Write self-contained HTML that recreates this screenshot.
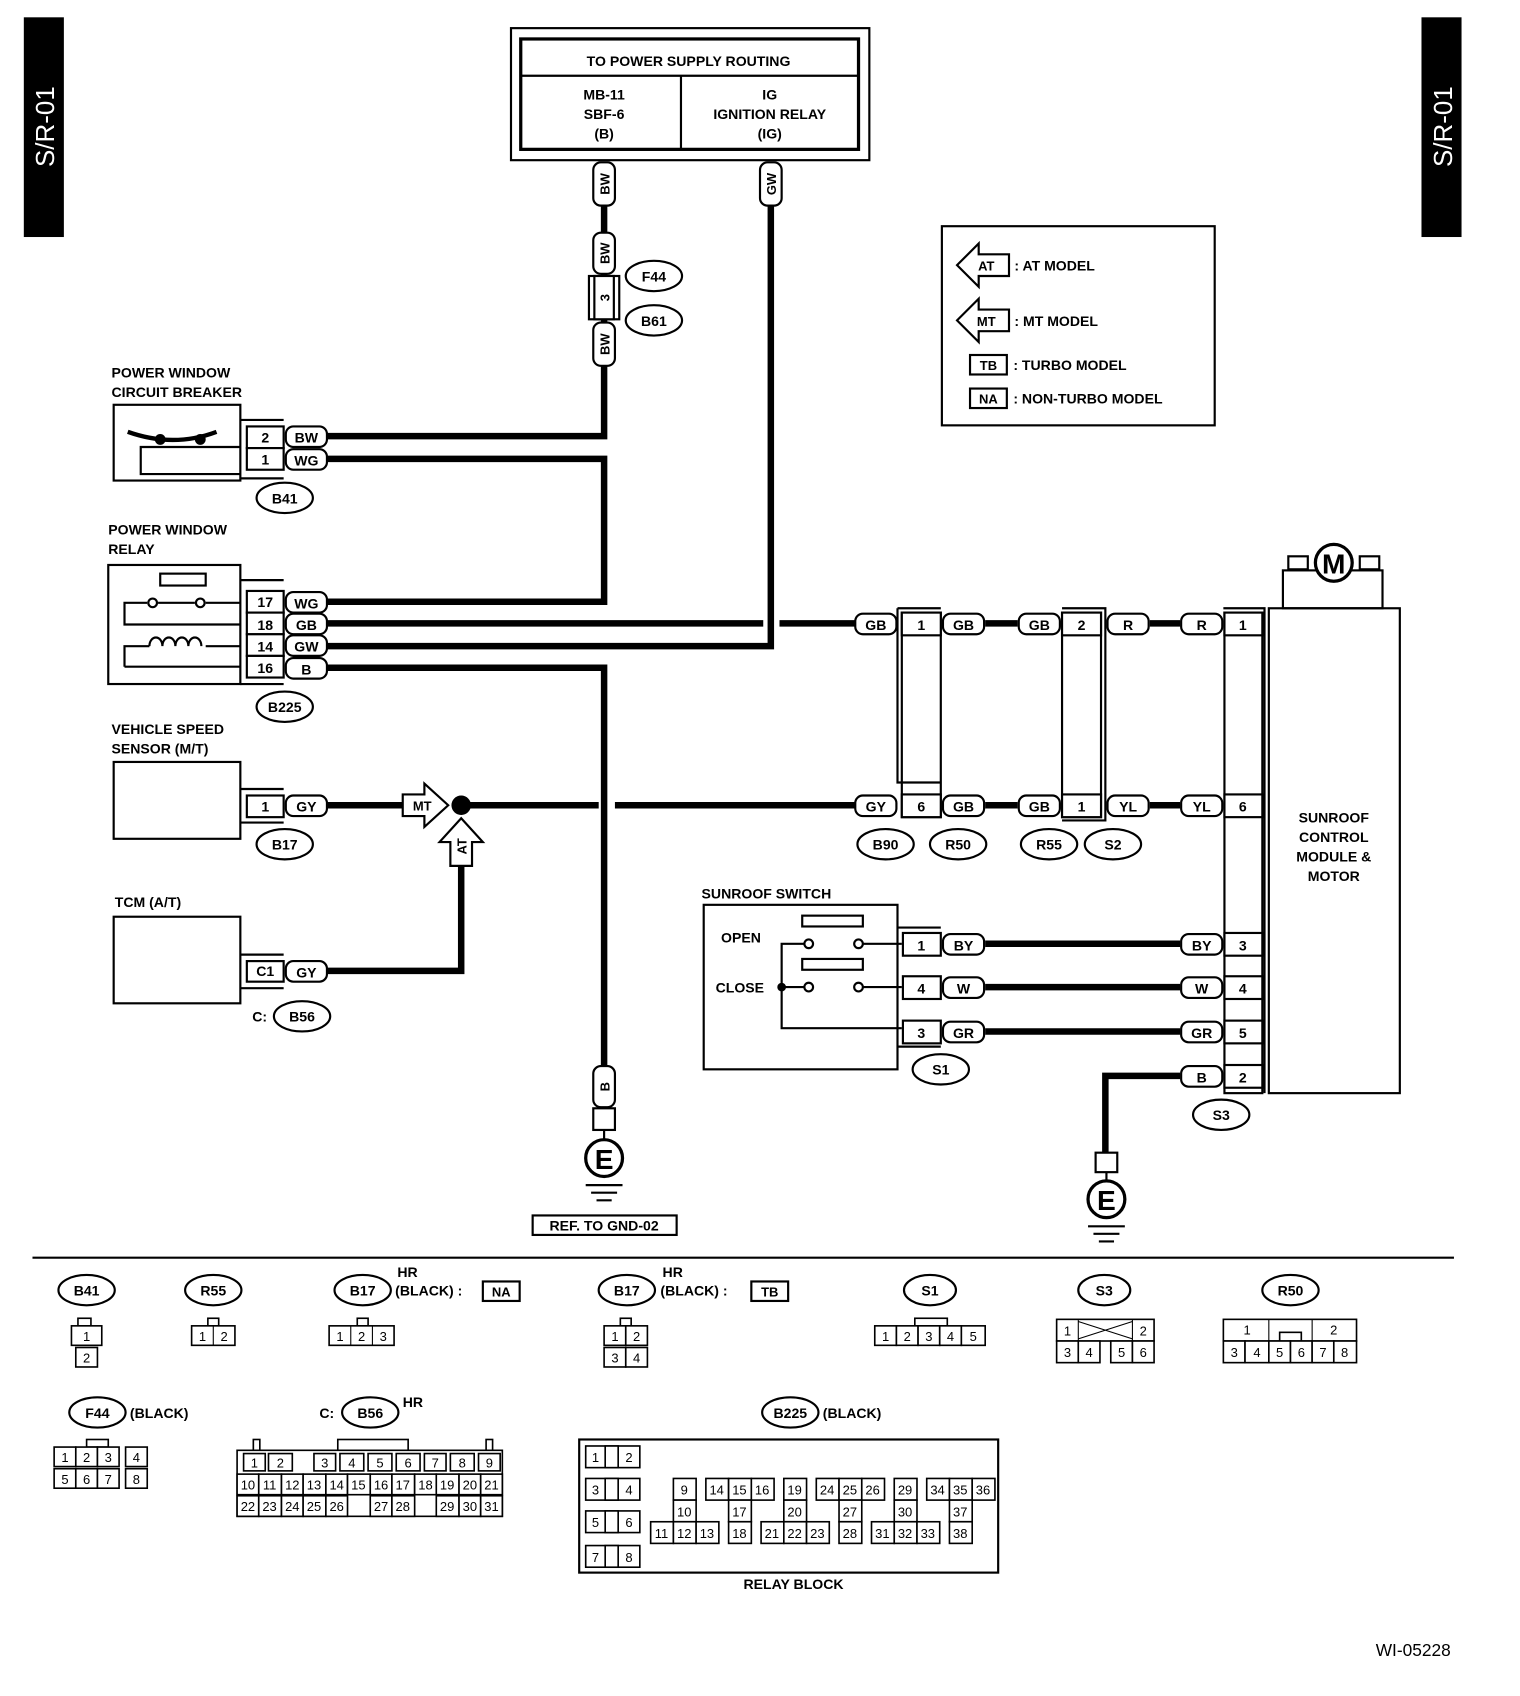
<!DOCTYPE html>
<html><head><meta charset="utf-8"><style>
html,body{margin:0;padding:0;background:#fff}
svg{display:block}
text{font-family:"Liberation Sans",Arial,sans-serif;font-size:14px;font-weight:bold;fill:#000}
.m{text-anchor:middle}
.s{font-size:12px;font-weight:normal}
.b{fill:none;stroke:#000;stroke-width:2}
.w{fill:none;stroke:#000;stroke-width:6}
.l{fill:#fff;stroke:#000;stroke-width:2}
.c rect{fill:#fff;stroke:#000;stroke-width:1.5}
.c text{font-size:12px;font-weight:normal;text-anchor:middle}
</style></head><body>
<svg width="1520" height="1696" viewBox="0 0 1404 1567" preserveAspectRatio="none" xmlns="http://www.w3.org/2000/svg">
<rect x="22" y="16" width="37" height="203" fill="#000"/>
<text transform="translate(50,117) rotate(-90)" class="m" style="fill:#fff;font-size:24px;font-weight:normal">S/R-01</text>
<rect x="1313" y="16" width="37" height="203" fill="#000"/>
<text transform="translate(1341,117) rotate(-90)" class="m" style="fill:#fff;font-size:24px;font-weight:normal">S/R-01</text>

<rect x="472" y="26" width="331" height="122" class="b"/>
<rect x="481" y="36" width="312" height="102" class="b" style="stroke-width:3"/>
<line x1="481" y1="70" x2="793" y2="70" class="b"/>
<line x1="629" y1="70" x2="629" y2="138" class="b"/>
<text x="636" y="61" class="m s" style="font-weight:bold;font-size:13px">TO POWER SUPPLY ROUTING</text>
<text x="558" y="92" class="m" style="font-size:13px">MB-11</text>
<text x="558" y="110" class="m" style="font-size:13px">SBF-6</text>
<text x="558" y="128" class="m" style="font-size:13px">(B)</text>
<text x="711" y="92" class="m" style="font-size:13px">IG</text>
<text x="711" y="110" class="m" style="font-size:13px">IGNITION RELAY</text>
<text x="711" y="128" class="m" style="font-size:13px">(IG)</text>

<path class="w" d="M558 190 V215 M558 250 V300 M558 338 V403 H265"/>
<path class="w" d="M712 190 V597 H265"/>
<path class="w" d="M265 424 H558 V556 H265"/>
<path class="w" d="M265 576 H705 M720 576 H790"/>
<path class="w" d="M910 576 H940 M1062 576 H1090"/>
<path class="w" d="M265 617 H558 V985"/>
<path class="w" d="M265 744 H372 M426 744 H553 M568 744 H790"/>
<path class="w" d="M910 744 H940 M1062 744 H1090"/>
<path class="w" d="M265 897 H426 V800"/>
<path class="w" d="M910 872 H1090 M910 912 H1090 M910 953 H1090"/>
<path class="w" d="M1090 994 H1021 V1065"/>

<g>
<rect x="548" y="150" width="20" height="40" rx="7" class="l"/><text transform="translate(563,170) rotate(-90)" class="m" style="font-size:12px">BW</text>
<rect x="548" y="215" width="20" height="38" rx="7" class="l"/><text transform="translate(563,234) rotate(-90)" class="m" style="font-size:12px">BW</text>
<rect x="544" y="255" width="28" height="40" class="b"/><rect x="549" y="255" width="18" height="40" class="l"/><text transform="translate(563,275) rotate(-90)" class="m" style="font-size:12px">3</text>
<rect x="548" y="298" width="20" height="40" rx="7" class="l"/><text transform="translate(563,318) rotate(-90)" class="m" style="font-size:12px">BW</text>
<rect x="702" y="150" width="20" height="40" rx="7" class="l"/><text transform="translate(717,170) rotate(-90)" class="m" style="font-size:12px">GW</text>
<ellipse cx="604" cy="255" rx="26" ry="14" class="l"/><text x="604" y="260" class="m" style="font-size:13px">F44</text>
<ellipse cx="604" cy="296" rx="26" ry="14" class="l"/><text x="604" y="301" class="m" style="font-size:13px">B61</text>
</g>

<rect x="870" y="209" width="252" height="184" class="b"/>
<path class="l" d="M884 245 L904 225 V235 H932 V255 H904 V265 Z"/><text x="911" y="250" class="m" style="font-size:12px">AT</text>
<text x="937" y="250" style="font-size:13px">: AT MODEL</text>
<path class="l" d="M884 296 L904 276 V286 H932 V306 H904 V316 Z"/><text x="911" y="301" class="m" style="font-size:12px">MT</text>
<text x="937" y="301" style="font-size:13px">: MT MODEL</text>
<rect x="896" y="328" width="34" height="18" class="l"/><text x="913" y="342" class="m" style="font-size:12px">TB</text>
<text x="936" y="342" style="font-size:13px">: TURBO MODEL</text>
<rect x="896" y="359" width="34" height="18" class="l"/><text x="913" y="373" class="m" style="font-size:12px">NA</text>
<text x="936" y="373" style="font-size:13px">: NON-TURBO MODEL</text>

<text x="103" y="349" style="font-size:13px">POWER WINDOW</text>
<text x="103" y="367" style="font-size:13px">CIRCUIT BREAKER</text>
<rect x="105" y="374" width="117" height="70" class="b"/>
<path class="b" d="M222 388 H262 M222 442 H262"/>
<path class="b" d="M222 438 H130 V413 H222"/>
<path d="M118 399 Q160 414 200 399" class="b" style="stroke-width:4"/>
<circle cx="148" cy="406" r="5"/><circle cx="185" cy="406" r="5"/>
<rect x="228" y="394" width="34" height="20" class="l"/><text x="245" y="409" class="m" style="font-size:13px">2</text>
<rect x="228" y="414" width="34" height="20" class="l"/><text x="245" y="429" class="m" style="font-size:13px">1</text>
<rect x="264" y="394" width="38" height="19" rx="7" class="l"/><text x="283" y="409" class="m" style="font-size:13px">BW</text>
<rect x="264" y="415" width="38" height="19" rx="7" class="l"/><text x="283" y="430" class="m" style="font-size:13px">WG</text>
<ellipse cx="263" cy="460" rx="26" ry="14" class="l"/><text x="263" y="465" class="m" style="font-size:13px">B41</text>

<text x="100" y="494" style="font-size:13px">POWER WINDOW</text>
<text x="100" y="512" style="font-size:13px">RELAY</text>
<rect x="100" y="522" width="122" height="110" class="b"/>
<path class="b" d="M222 536 H262 M222 632 H262"/>
<rect x="148" y="530" width="42" height="11" class="b"/>
<path class="b" d="M222 557 H190 M180 557 H146 M136 557 H115 V577 H222"/>
<circle cx="141" cy="557" r="4" class="l"/><circle cx="185" cy="557" r="4" class="l"/>
<path class="b" d="M115 616 V597 H138 M115 616 H222 M190 597 H222"/>
<path class="b" d="M138 597 a6 8 0 1 1 12 0 a6 8 0 1 1 12 0 a6 8 0 1 1 12 0 a6 8 0 1 1 12 0"/>
<rect x="228" y="546" width="34" height="20" class="l"/><text x="245" y="561" class="m" style="font-size:13px">17</text>
<rect x="228" y="566" width="34" height="20" class="l"/><text x="245" y="582" class="m" style="font-size:13px">18</text>
<rect x="228" y="586" width="34" height="20" class="l"/><text x="245" y="602" class="m" style="font-size:13px">14</text>
<rect x="228" y="606" width="34" height="20" class="l"/><text x="245" y="622" class="m" style="font-size:13px">16</text>
<rect x="264" y="547" width="38" height="19" rx="7" class="l"/><text x="283" y="562" class="m" style="font-size:13px">WG</text>
<rect x="264" y="567" width="38" height="19" rx="7" class="l"/><text x="283" y="582" class="m" style="font-size:13px">GB</text>
<rect x="264" y="587" width="38" height="19" rx="7" class="l"/><text x="283" y="602" class="m" style="font-size:13px">GW</text>
<rect x="264" y="608" width="38" height="19" rx="7" class="l"/><text x="283" y="623" class="m" style="font-size:13px">B</text>
<ellipse cx="263" cy="653" rx="26" ry="14" class="l"/><text x="263" y="658" class="m" style="font-size:13px">B225</text>

<text x="103" y="678" style="font-size:13px">VEHICLE SPEED</text>
<text x="103" y="696" style="font-size:13px">SENSOR (M/T)</text>
<rect x="105" y="704" width="117" height="71" class="b"/>
<path class="b" d="M222 729 H262 M222 760 H262"/>
<rect x="228" y="735" width="34" height="20" class="l"/><text x="245" y="750" class="m" style="font-size:13px">1</text>
<rect x="264" y="735" width="38" height="19" rx="7" class="l"/><text x="283" y="750" class="m" style="font-size:13px">GY</text>
<ellipse cx="263" cy="780" rx="26" ry="14" class="l"/><text x="263" y="785" class="m" style="font-size:13px">B17</text>
<path class="l" d="M372 734 H392 V724 L414 744 L392 764 V754 H372 Z"/><text x="390" y="749" class="m" style="font-size:12px">MT</text>
<circle cx="426" cy="744" r="9"/>
<path class="l" d="M426 756 L446 778 H436 V800 H416 V778 H406 Z"/><text transform="translate(431,782) rotate(-90)" class="m" style="font-size:12px">AT</text>

<text x="106" y="838" style="font-size:13px">TCM (A/T)</text>
<rect x="105" y="847" width="117" height="80" class="b"/>
<path class="b" d="M222 882 H262 M222 913 H262"/>
<rect x="228" y="888" width="34" height="19" class="l"/><text x="245" y="902" class="m" style="font-size:13px">C1</text>
<rect x="264" y="888" width="38" height="19" rx="7" class="l"/><text x="283" y="903" class="m" style="font-size:13px">GY</text>
<text x="233" y="944" style="font-size:13px">C:</text>
<ellipse cx="279" cy="939" rx="26" ry="14" class="l"/><text x="279" y="944" class="m" style="font-size:13px">B56</text>

<rect x="548" y="985" width="20" height="38" rx="7" class="l"/><text transform="translate(563,1004) rotate(-90)" class="m" style="font-size:12px">B</text>
<rect x="548" y="1024" width="20" height="20" class="l"/>
<line x1="558" y1="1044" x2="558" y2="1053" class="b"/>
<circle cx="558" cy="1070" r="17" class="l" style="stroke-width:3"/><text x="558" y="1080" class="m" style="font-size:26px">E</text>
<path class="b" d="M541 1095 H575 M546 1102 H570 M551 1109 H565"/>
<rect x="492" y="1123" width="133" height="18" class="l"/><text x="558" y="1137" class="m" style="font-size:13px">REF. TO GND-02</text>

<g>
<rect x="790" y="567" width="38" height="19" rx="7" class="l"/><text x="809" y="582" class="m" style="font-size:13px">GB</text>
<rect x="790" y="735" width="38" height="19" rx="7" class="l"/><text x="809" y="750" class="m" style="font-size:13px">GY</text>
<path class="b" d="M829 562 H869 M829 562 V723 H869"/>
<rect x="833" y="566" width="36" height="189" class="b"/>
<rect x="833" y="566" width="36" height="21" class="l"/><text x="851" y="582" class="m" style="font-size:13px">1</text>
<rect x="833" y="734" width="36" height="21" class="l"/><text x="851" y="750" class="m" style="font-size:13px">6</text>
<rect x="871" y="567" width="38" height="19" rx="7" class="l"/><text x="890" y="582" class="m" style="font-size:13px">GB</text>
<rect x="871" y="735" width="38" height="19" rx="7" class="l"/><text x="890" y="750" class="m" style="font-size:13px">GB</text>

<rect x="941" y="567" width="38" height="19" rx="7" class="l"/><text x="960" y="582" class="m" style="font-size:13px">GB</text>
<rect x="941" y="735" width="38" height="19" rx="7" class="l"/><text x="960" y="750" class="m" style="font-size:13px">GB</text>
<rect x="981" y="566" width="36" height="189" class="b"/>
<path class="b" d="M981 562 H1021 V758 H981"/>
<rect x="981" y="566" width="36" height="21" class="l"/><text x="999" y="582" class="m" style="font-size:13px">2</text>
<rect x="981" y="734" width="36" height="21" class="l"/><text x="999" y="750" class="m" style="font-size:13px">1</text>
<rect x="1023" y="567" width="38" height="19" rx="7" class="l"/><text x="1042" y="582" class="m" style="font-size:13px">R</text>
<rect x="1023" y="735" width="38" height="19" rx="7" class="l"/><text x="1042" y="750" class="m" style="font-size:13px">YL</text>
</g>
<ellipse cx="818" cy="780" rx="26" ry="14" class="l"/><text x="818" y="785" class="m" style="font-size:13px">B90</text>
<ellipse cx="885" cy="780" rx="26" ry="14" class="l"/><text x="885" y="785" class="m" style="font-size:13px">R50</text>
<ellipse cx="969" cy="780" rx="26" ry="14" class="l"/><text x="969" y="785" class="m" style="font-size:13px">R55</text>
<ellipse cx="1028" cy="780" rx="26" ry="14" class="l"/><text x="1028" y="785" class="m" style="font-size:13px">S2</text>

<rect x="1172" y="562" width="121" height="448" class="b"/>
<path class="b" d="M1130 562 H1168 V1010"/>
<rect x="1131" y="566" width="35" height="444" class="b"/>
<rect x="1185" y="527" width="92" height="35" class="b"/>
<rect x="1190" y="514" width="18" height="12" class="b"/><rect x="1256" y="514" width="18" height="12" class="b"/>
<circle cx="1232" cy="520" r="17" class="l" style="stroke-width:3"/><text x="1232" y="530" class="m" style="font-size:26px">M</text>
<text x="1232" y="760" class="m" style="font-size:13px">SUNROOF</text>
<text x="1232" y="778" class="m" style="font-size:13px">CONTROL</text>
<text x="1232" y="796" class="m" style="font-size:13px">MODULE &amp;</text>
<text x="1232" y="814" class="m" style="font-size:13px">MOTOR</text>
<g>
<rect x="1131" y="566" width="35" height="21" class="l"/><text x="1148" y="582" class="m" style="font-size:13px">1</text>
<rect x="1131" y="734" width="35" height="21" class="l"/><text x="1148" y="750" class="m" style="font-size:13px">6</text>
<rect x="1131" y="862" width="35" height="21" class="l"/><text x="1148" y="878" class="m" style="font-size:13px">3</text>
<rect x="1131" y="902" width="35" height="21" class="l"/><text x="1148" y="918" class="m" style="font-size:13px">4</text>
<rect x="1131" y="943" width="35" height="21" class="l"/><text x="1148" y="959" class="m" style="font-size:13px">5</text>
<rect x="1131" y="984" width="35" height="21" class="l"/><text x="1148" y="1000" class="m" style="font-size:13px">2</text>
<rect x="1091" y="567" width="38" height="19" rx="7" class="l"/><text x="1110" y="582" class="m" style="font-size:13px">R</text>
<rect x="1091" y="735" width="38" height="19" rx="7" class="l"/><text x="1110" y="750" class="m" style="font-size:13px">YL</text>
<rect x="1091" y="863" width="38" height="19" rx="7" class="l"/><text x="1110" y="878" class="m" style="font-size:13px">BY</text>
<rect x="1091" y="903" width="38" height="19" rx="7" class="l"/><text x="1110" y="918" class="m" style="font-size:13px">W</text>
<rect x="1091" y="944" width="38" height="19" rx="7" class="l"/><text x="1110" y="959" class="m" style="font-size:13px">GR</text>
<rect x="1091" y="985" width="38" height="19" rx="7" class="l"/><text x="1110" y="1000" class="m" style="font-size:13px">B</text>
</g>
<ellipse cx="1128" cy="1030" rx="26" ry="14" class="l"/><text x="1128" y="1035" class="m" style="font-size:13px">S3</text>
<rect x="1012" y="1065" width="20" height="18" class="l"/>
<line x1="1022" y1="1083" x2="1022" y2="1091" class="b"/>
<circle cx="1022" cy="1108" r="17" class="l" style="stroke-width:3"/><text x="1022" y="1118" class="m" style="font-size:26px">E</text>
<path class="b" d="M1005 1133 H1039 M1010 1140 H1034 M1015 1147 H1029"/>

<text x="648" y="830" style="font-size:13px">SUNROOF SWITCH</text>
<rect x="650" y="836" width="179" height="152" class="b"/>
<text x="666" y="871" style="font-size:13px">OPEN</text>
<text x="661" y="917" style="font-size:13px">CLOSE</text>
<rect x="741" y="846" width="56" height="10" class="b"/>
<rect x="741" y="886" width="56" height="10" class="b"/>
<circle cx="747" cy="872" r="4" class="l"/><circle cx="793" cy="872" r="4" class="l"/>
<circle cx="747" cy="912" r="4" class="l"/><circle cx="793" cy="912" r="4" class="l"/>
<path class="b" d="M797 872 H833 M797 912 H833 M743 872 H722 V950 H833 M743 912 H722"/>
<circle cx="722" cy="912" r="4"/>
<path class="b" d="M829 857 H869 M829 967 H869"/>
<rect x="834" y="862" width="35" height="21" class="l"/><text x="851" y="878" class="m" style="font-size:13px">1</text>
<rect x="834" y="902" width="35" height="21" class="l"/><text x="851" y="918" class="m" style="font-size:13px">4</text>
<rect x="834" y="943" width="35" height="21" class="l"/><text x="851" y="959" class="m" style="font-size:13px">3</text>
<rect x="871" y="863" width="38" height="19" rx="7" class="l"/><text x="890" y="878" class="m" style="font-size:13px">BY</text>
<rect x="871" y="903" width="38" height="19" rx="7" class="l"/><text x="890" y="918" class="m" style="font-size:13px">W</text>
<rect x="871" y="944" width="38" height="19" rx="7" class="l"/><text x="890" y="959" class="m" style="font-size:13px">GR</text>
<ellipse cx="869" cy="988" rx="26" ry="14" class="l"/><text x="869" y="993" class="m" style="font-size:13px">S1</text>

<line x1="30" y1="1162" x2="1343" y2="1162" class="b"/>

<g style="font-size:13px">
<ellipse cx="80" cy="1192" rx="26" ry="14" class="l"/><text x="80" y="1197" class="m" style="font-size:13px">B41</text>
<ellipse cx="197" cy="1192" rx="26" ry="14" class="l"/><text x="197" y="1197" class="m" style="font-size:13px">R55</text>
<ellipse cx="335" cy="1192" rx="26" ry="14" class="l"/><text x="335" y="1197" class="m" style="font-size:13px">B17</text>
<text x="367" y="1180" style="font-size:13px">HR</text><text x="365" y="1197" style="font-size:13px">(BLACK) :</text>
<rect x="446" y="1184" width="34" height="18" class="l"/><text x="463" y="1198" class="m" style="font-size:12px">NA</text>
<ellipse cx="579" cy="1192" rx="26" ry="14" class="l"/><text x="579" y="1197" class="m" style="font-size:13px">B17</text>
<text x="612" y="1180" style="font-size:13px">HR</text><text x="610" y="1197" style="font-size:13px">(BLACK)  :</text>
<rect x="694" y="1184" width="34" height="18" class="l"/><text x="711" y="1198" class="m" style="font-size:12px">TB</text>
<ellipse cx="859" cy="1192" rx="24" ry="14" class="l"/><text x="859" y="1197" class="m" style="font-size:13px">S1</text>
<ellipse cx="1020" cy="1192" rx="24" ry="14" class="l"/><text x="1020" y="1197" class="m" style="font-size:13px">S3</text>
<ellipse cx="1192" cy="1192" rx="26" ry="14" class="l"/><text x="1192" y="1197" class="m" style="font-size:13px">R50</text>
<ellipse cx="90" cy="1305" rx="26" ry="14" class="l"/><text x="90" y="1310" class="m" style="font-size:13px">F44</text>
<text x="120" y="1310" style="font-size:13px">(BLACK)</text>
<text x="295" y="1310" style="font-size:13px">C:</text>
<ellipse cx="342" cy="1305" rx="26" ry="14" class="l"/><text x="342" y="1310" class="m" style="font-size:13px">B56</text>
<text x="372" y="1300" style="font-size:13px">HR</text>
<ellipse cx="730" cy="1305" rx="26" ry="14" class="l"/><text x="730" y="1310" class="m" style="font-size:13px">B225</text>
<text x="760" y="1310" style="font-size:13px">(BLACK)</text>
<text x="733" y="1468" class="m" style="font-size:13px">RELAY BLOCK</text>
<text x="1340" y="1530" style="font-size:16px;font-weight:normal;text-anchor:end">WI-05228</text>
</g>

<g class="c">
<rect x="72" y="1218" width="12" height="7"/><rect x="66" y="1225" width="28" height="18"/><text x="80" y="1239">1</text>
<rect x="70" y="1245" width="20" height="18"/><text x="80" y="1259">2</text>
<rect x="192" y="1218" width="10" height="7"/><rect x="177" y="1225" width="40" height="18"/><text x="187" y="1239">1</text><text x="207" y="1239">2</text><line x1="197" y1="1225" x2="197" y2="1243" stroke="#000"/>
<rect x="330" y="1218" width="10" height="7"/><rect x="304" y="1225" width="60" height="18"/>
<text x="314" y="1239">1</text><text x="334" y="1239">2</text><text x="354" y="1239">3</text>
<line x1="324" y1="1225" x2="324" y2="1243" stroke="#000"/><line x1="344" y1="1225" x2="344" y2="1243" stroke="#000"/>
<rect x="573" y="1218" width="10" height="7"/>
<rect x="558" y="1225" width="20" height="18"/><text x="568" y="1239">1</text><rect x="578" y="1225" width="20" height="18"/><text x="588" y="1239">2</text>
<rect x="558" y="1245" width="20" height="18"/><text x="568" y="1259">3</text><rect x="578" y="1245" width="20" height="18"/><text x="588" y="1259">4</text>
<rect x="845" y="1218" width="30" height="7"/>
<rect x="808" y="1225" width="20" height="18"/><text x="818" y="1239">1</text>
<rect x="828" y="1225" width="20" height="18"/><text x="838" y="1239">2</text>
<rect x="848" y="1225" width="20" height="18"/><text x="858" y="1239">3</text>
<rect x="868" y="1225" width="20" height="18"/><text x="878" y="1239">4</text>
<rect x="888" y="1225" width="22" height="18"/><text x="899" y="1239">5</text>
<rect x="976" y="1219" width="90" height="20"/><text x="986" y="1234">1</text><text x="1056" y="1234">2</text>
<line x1="996" y1="1219" x2="996" y2="1239" stroke="#000"/><line x1="1046" y1="1219" x2="1046" y2="1239" stroke="#000"/>
<path d="M996 1221 L1046 1237 M996 1237 L1046 1221" stroke="#000"/>
<rect x="976" y="1239" width="20" height="20"/><text x="986" y="1254">3</text>
<rect x="996" y="1239" width="20" height="20"/><text x="1006" y="1254">4</text>
<rect x="1026" y="1239" width="20" height="20"/><text x="1036" y="1254">5</text>
<rect x="1046" y="1239" width="20" height="20"/><text x="1056" y="1254">6</text>
<rect x="1130" y="1219" width="123" height="20"/><text x="1152" y="1233">1</text><text x="1232" y="1233">2</text>
<line x1="1172" y1="1219" x2="1172" y2="1239" stroke="#000"/><line x1="1212" y1="1219" x2="1212" y2="1239" stroke="#000"/>
<rect x="1182" y="1231" width="20" height="8"/>
<rect x="1130" y="1239" width="20" height="20"/><text x="1140" y="1254">3</text>
<rect x="1150" y="1239" width="22" height="20"/><text x="1161" y="1254">4</text>
<rect x="1172" y="1239" width="20" height="20"/><text x="1182" y="1254">5</text>
<rect x="1192" y="1239" width="20" height="20"/><text x="1202" y="1254">6</text>
<rect x="1212" y="1239" width="20" height="20"/><text x="1222" y="1254">7</text>
<rect x="1232" y="1239" width="21" height="20"/><text x="1242" y="1254">8</text>
<rect x="80" y="1330" width="20" height="7"/>
<rect x="50" y="1337" width="20" height="18"/><text x="60" y="1351">1</text>
<rect x="70" y="1337" width="20" height="18"/><text x="80" y="1351">2</text>
<rect x="90" y="1337" width="20" height="18"/><text x="100" y="1351">3</text>
<rect x="116" y="1337" width="20" height="18"/><text x="126" y="1351">4</text>
<rect x="50" y="1357" width="20" height="18"/><text x="60" y="1371">5</text>
<rect x="70" y="1357" width="20" height="18"/><text x="80" y="1371">6</text>
<rect x="90" y="1357" width="20" height="18"/><text x="100" y="1371">7</text>
<rect x="116" y="1357" width="20" height="18"/><text x="126" y="1371">8</text>
<rect x="234" y="1330" width="6" height="10"/><rect x="449" y="1330" width="6" height="10"/><rect x="312" y="1330" width="65" height="10"/>
<rect x="219" y="1340" width="245" height="61"/>
<rect x="225" y="1343" width="20" height="16"/><text x="235" y="1356">1</text>
<rect x="248" y="1343" width="22" height="16"/><text x="259" y="1356">2</text>
<rect x="290" y="1343" width="20" height="16"/><text x="300" y="1356">3</text>
<rect x="314" y="1343" width="22" height="16"/><text x="325" y="1356">4</text>
<rect x="340" y="1343" width="22" height="16"/><text x="351" y="1356">5</text>
<rect x="366" y="1343" width="22" height="16"/><text x="377" y="1356">6</text>
<rect x="392" y="1343" width="20" height="16"/><text x="402" y="1356">7</text>
<rect x="416" y="1343" width="22" height="16"/><text x="427" y="1356">8</text>
<rect x="442" y="1343" width="20" height="16"/><text x="452" y="1356">9</text>
<rect x="219" y="1362" width="20" height="19"/><text x="229" y="1376">10</text>
<rect x="239" y="1362" width="21" height="19"/><text x="249" y="1376">11</text>
<rect x="260" y="1362" width="20" height="19"/><text x="270" y="1376">12</text>
<rect x="280" y="1362" width="21" height="19"/><text x="290" y="1376">13</text>
<rect x="301" y="1362" width="20" height="19"/><text x="311" y="1376">14</text>
<rect x="321" y="1362" width="21" height="19"/><text x="331" y="1376">15</text>
<rect x="342" y="1362" width="20" height="19"/><text x="352" y="1376">16</text>
<rect x="362" y="1362" width="21" height="19"/><text x="372" y="1376">17</text>
<rect x="383" y="1362" width="20" height="19"/><text x="393" y="1376">18</text>
<rect x="403" y="1362" width="21" height="19"/><text x="413" y="1376">19</text>
<rect x="424" y="1362" width="20" height="19"/><text x="434" y="1376">20</text>
<rect x="444" y="1362" width="20" height="19"/><text x="454" y="1376">21</text>
<rect x="219" y="1382" width="20" height="19"/><text x="229" y="1396">22</text>
<rect x="239" y="1382" width="21" height="19"/><text x="249" y="1396">23</text>
<rect x="260" y="1382" width="20" height="19"/><text x="270" y="1396">24</text>
<rect x="280" y="1382" width="21" height="19"/><text x="290" y="1396">25</text>
<rect x="301" y="1382" width="20" height="19"/><text x="311" y="1396">26</text>
<rect x="342" y="1382" width="20" height="19"/><text x="352" y="1396">27</text>
<rect x="362" y="1382" width="21" height="19"/><text x="372" y="1396">28</text>
<rect x="403" y="1382" width="21" height="19"/><text x="413" y="1396">29</text>
<rect x="424" y="1382" width="20" height="19"/><text x="434" y="1396">30</text>
<rect x="444" y="1382" width="20" height="19"/><text x="454" y="1396">31</text>
<rect x="535" y="1330" width="387" height="123" style="stroke-width:2"/>
<rect x="541" y="1336" width="50" height="20"/><rect x="559" y="1336" width="12" height="20"/><text x="550" y="1351">1</text><text x="581" y="1351">2</text>
<rect x="541" y="1366" width="50" height="20"/><rect x="559" y="1366" width="12" height="20"/><text x="550" y="1381">3</text><text x="581" y="1381">4</text>
<rect x="541" y="1396" width="50" height="20"/><rect x="559" y="1396" width="12" height="20"/><text x="550" y="1411">5</text><text x="581" y="1411">6</text>
<rect x="541" y="1428" width="50" height="20"/><rect x="559" y="1428" width="12" height="20"/><text x="550" y="1443">7</text><text x="581" y="1443">8</text>
<rect x="622" y="1366" width="21" height="20"/><text x="632" y="1381">9</text>
<rect x="622" y="1386" width="21" height="20"/><text x="632" y="1401">10</text>
<rect x="601" y="1406" width="21" height="20"/><text x="611" y="1421">11</text>
<rect x="622" y="1406" width="21" height="20"/><text x="632" y="1421">12</text>
<rect x="643" y="1406" width="21" height="20"/><text x="653" y="1421">13</text>
<rect x="652" y="1366" width="21" height="20"/><text x="662" y="1381">14</text>
<rect x="673" y="1366" width="21" height="20"/><text x="683" y="1381">15</text>
<rect x="694" y="1366" width="21" height="20"/><text x="704" y="1381">16</text>
<rect x="673" y="1386" width="21" height="20"/><text x="683" y="1401">17</text>
<rect x="673" y="1406" width="21" height="20"/><text x="683" y="1421">18</text>
<rect x="724" y="1366" width="21" height="20"/><text x="734" y="1381">19</text>
<rect x="724" y="1386" width="21" height="20"/><text x="734" y="1401">20</text>
<rect x="703" y="1406" width="21" height="20"/><text x="713" y="1421">21</text>
<rect x="724" y="1406" width="21" height="20"/><text x="734" y="1421">22</text>
<rect x="745" y="1406" width="21" height="20"/><text x="755" y="1421">23</text>
<rect x="754" y="1366" width="21" height="20"/><text x="764" y="1381">24</text>
<rect x="775" y="1366" width="21" height="20"/><text x="785" y="1381">25</text>
<rect x="796" y="1366" width="21" height="20"/><text x="806" y="1381">26</text>
<rect x="775" y="1386" width="21" height="20"/><text x="785" y="1401">27</text>
<rect x="775" y="1406" width="21" height="20"/><text x="785" y="1421">28</text>
<rect x="826" y="1366" width="21" height="20"/><text x="836" y="1381">29</text>
<rect x="826" y="1386" width="21" height="20"/><text x="836" y="1401">30</text>
<rect x="805" y="1406" width="21" height="20"/><text x="815" y="1421">31</text>
<rect x="826" y="1406" width="21" height="20"/><text x="836" y="1421">32</text>
<rect x="847" y="1406" width="21" height="20"/><text x="857" y="1421">33</text>
<rect x="856" y="1366" width="21" height="20"/><text x="866" y="1381">34</text>
<rect x="877" y="1366" width="21" height="20"/><text x="887" y="1381">35</text>
<rect x="898" y="1366" width="21" height="20"/><text x="908" y="1381">36</text>
<rect x="877" y="1386" width="21" height="20"/><text x="887" y="1401">37</text>
<rect x="877" y="1406" width="21" height="20"/><text x="887" y="1421">38</text>
</g>
</svg>
</body></html>
